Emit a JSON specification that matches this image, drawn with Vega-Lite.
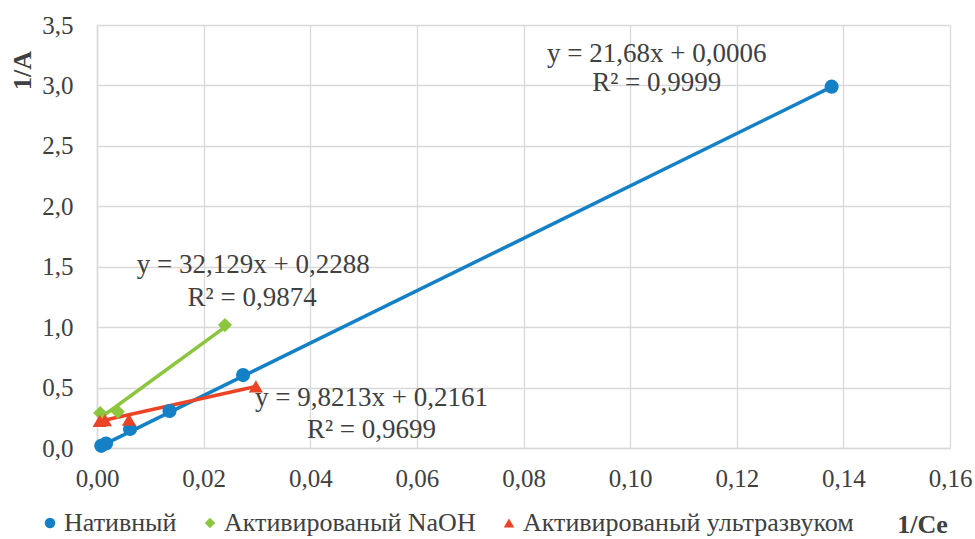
{
  "$schema": "https://vega.github.io/schema/vega-lite/v6.json",
  "width": 853,
  "height": 423,
  "autosize": {"type": "none"},
  "padding": {"left": 97, "top": 25, "right": 25, "bottom": 91},
  "background": "white",
  "config": {
    "view": {"stroke": null},
    "font": "Liberation Serif",
    "axis": {
      "labelFont": "Liberation Serif",
      "labelFontSize": 25,
      "labelColor": "#404040",
      "labelFlush": false,
      "gridColor": "#d9d9d9",
      "gridWidth": 1.3,
      "domainColor": "#d9d9d9",
      "domainWidth": 1.5,
      "ticks": false,
      "titleFont": "Liberation Serif",
      "titleFontSize": 26,
      "titleFontWeight": "bold",
      "titleColor": "#404040"
    }
  },
  "datasets": {
    "points": [
      {"series": "Нативный", "x": 0.0008, "y": 0.018},
      {"series": "Нативный", "x": 0.0017, "y": 0.037},
      {"series": "Нативный", "x": 0.0062, "y": 0.157},
      {"series": "Нативный", "x": 0.0136, "y": 0.306},
      {"series": "Нативный", "x": 0.0274, "y": 0.603},
      {"series": "Нативный", "x": 0.1378, "y": 2.99},
      {"series": "Активированый NaOH", "x": 0.0006, "y": 0.29},
      {"series": "Активированый NaOH", "x": 0.0039, "y": 0.3},
      {"series": "Активированый NaOH", "x": 0.024, "y": 1.017},
      {"series": "Активированый ультразвуком", "x": 0.0005, "y": 0.225},
      {"series": "Активированый ультразвуком", "x": 0.0015, "y": 0.23},
      {"series": "Активированый ультразвуком", "x": 0.006, "y": 0.235},
      {"series": "Активированый ультразвуком", "x": 0.0298, "y": 0.51}
    ],
    "trend": [
      {"series": "Нативный", "x": 0.0008, "y": 0.018},
      {"series": "Нативный", "x": 0.1378, "y": 2.988},
      {"series": "Активированый NaOH", "x": 0.0006, "y": 0.248},
      {"series": "Активированый NaOH", "x": 0.024, "y": 1.0},
      {"series": "Активированый ультразвуком", "x": 0.0005, "y": 0.221},
      {"series": "Активированый ультразвуком", "x": 0.0298, "y": 0.509}
    ],
    "labels": [
      {"x": 0.105, "y": 3.26, "text": "y = 21,68x + 0,0006"},
      {"x": 0.105, "y": 3.02, "text": "R² = 0,9999"},
      {"x": 0.0293, "y": 1.514, "text": "y = 32,129x + 0,2288"},
      {"x": 0.0291, "y": 1.241, "text": "R² = 0,9874"},
      {"x": 0.0515, "y": 0.414, "text": "y = 9,8213x + 0,2161"},
      {"x": 0.0515, "y": 0.149, "text": "R² = 0,9699"}
    ]
  },
  "layer": [
    {
      "data": {"name": "trend"},
      "transform": [{"filter": "datum.series === 'Нативный'"}],
      "mark": {"type": "line", "strokeWidth": 3.5, "color": "#1481c6"},
      "encoding": {
        "x": {"field": "x", "type": "quantitative"},
        "y": {"field": "y", "type": "quantitative"}
      }
    },
    {
      "data": {"name": "trend"},
      "transform": [{"filter": "datum.series === 'Активированый NaOH'"}],
      "mark": {"type": "line", "strokeWidth": 3.5, "color": "#8cc63e"},
      "encoding": {
        "x": {"field": "x", "type": "quantitative"},
        "y": {"field": "y", "type": "quantitative"}
      }
    },
    {
      "data": {"name": "trend"},
      "transform": [{"filter": "datum.series === 'Активированый ультразвуком'"}],
      "mark": {"type": "line", "strokeWidth": 3.5, "color": "#ea4325"},
      "encoding": {
        "x": {"field": "x", "type": "quantitative"},
        "y": {"field": "y", "type": "quantitative"}
      }
    },
    {
      "data": {"name": "points"},
      "mark": {"type": "point", "filled": true, "opacity": 1, "size": 200},
      "encoding": {
        "x": {
          "field": "x",
          "type": "quantitative",
          "scale": {"domain": [0, 0.16], "nice": false, "zero": false},
          "axis": {
            "values": [0, 0.02, 0.04, 0.06, 0.08, 0.1, 0.12, 0.14, 0.16],
            "labelExpr": "replace(format(datum.value, '.2f'), '.', ',')",
            "labelPadding": 18,
            "title": "1/Ce",
            "titleAnchor": null,
            "titleAlign": "center",
            "titleBaseline": "alphabetic",
            "titleX": 825,
            "titleY": 84
          }
        },
        "y": {
          "field": "y",
          "type": "quantitative",
          "scale": {"domain": [0, 3.5], "nice": false},
          "axis": {
            "values": [0, 0.5, 1, 1.5, 2, 2.5, 3, 3.5],
            "labelExpr": "replace(format(datum.value, '.1f'), '.', ',')",
            "labelPadding": 24,
            "title": "1/A",
            "titleAnchor": null,
            "titleAngle": -90,
            "titleAlign": "center",
            "titleBaseline": "alphabetic",
            "titleX": -67,
            "titleY": 45
          }
        },
        "color": {
          "field": "series",
          "type": "nominal",
          "scale": {
            "domain": ["Нативный", "Активированый NaOH", "Активированый ультразвуком"],
            "range": ["#1481c6", "#8cc63e", "#ea4325"]
          },
          "legend": {
            "title": null,
            "orient": "none",
            "direction": "horizontal",
            "legendX": -60,
            "legendY": 485,
            "symbolSize": 110,
            "labelOffset": 1,
            "columnPadding": 20,
            "labelFont": "Liberation Serif",
            "labelFontSize": 26,
            "labelColor": "#404040",
            "labelLimit": 500
          }
        },
        "shape": {
          "field": "series",
          "type": "nominal",
          "scale": {
            "domain": ["Нативный", "Активированый NaOH", "Активированый ультразвуком"],
            "range": ["circle", "diamond", "triangle-up"]
          },
          "legend": {
            "title": null,
            "orient": "none",
            "direction": "horizontal",
            "legendX": -60,
            "legendY": 485,
            "symbolSize": 110,
            "labelOffset": 1,
            "columnPadding": 20,
            "labelFont": "Liberation Serif",
            "labelFontSize": 26,
            "labelColor": "#404040",
            "labelLimit": 500
          }
        }
      }
    },
    {
      "data": {"name": "labels"},
      "mark": {"type": "text", "font": "Liberation Serif", "fontSize": 27, "color": "#404040", "align": "center", "baseline": "middle"},
      "encoding": {
        "x": {"field": "x", "type": "quantitative"},
        "y": {"field": "y", "type": "quantitative"},
        "text": {"field": "text"}
      }
    }
  ]
}
